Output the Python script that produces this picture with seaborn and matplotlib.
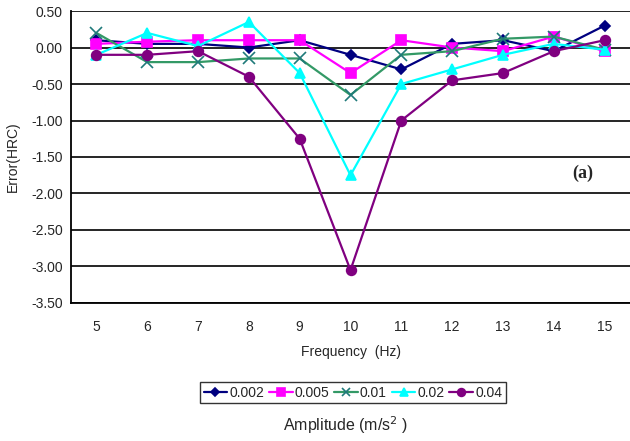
import numpy as np
import pandas as pd
import matplotlib
matplotlib.use("Agg")
import matplotlib.pyplot as plt
import seaborn as sns

# frequency (Hz) on x, one series per amplitude
freq = [5, 6, 7, 8, 9, 10, 11, 12, 13, 14, 15]
amp_labels = ["0.002", "0.005", "0.01", "0.02", "0.04"]

err_0002 = [0.10, 0.05, 0.05, 0.00, 0.10, -0.10, -0.30, 0.05, 0.10, -0.05, 0.30]
err_0005 = [0.05, 0.08, 0.10, 0.10, 0.10, -0.35, 0.10, 0.00, -0.05, 0.15, -0.05]
err_001 = [0.20, -0.20, -0.20, -0.15, -0.15, -0.65, -0.10, -0.05, 0.12, 0.15, -0.03]
err_002 = [-0.10, 0.20, 0.02, 0.35, -0.35, -1.75, -0.50, -0.30, -0.10, 0.05, -0.03]
err_004 = [-0.10, -0.10, -0.05, -0.40, -1.25, -3.05, -1.00, -0.45, -0.35, -0.05, 0.10]

series = [err_0002, err_0005, err_001, err_002, err_004]
line_colors = ["#000080", "#FF00FF", "#339966", "#00FFFF", "#800080"]
marker_colors = ["#000080", "#FF00FF", "#1F7A7A", "#00FFFF", "#800080"]
markers = ["D", "s", "x", "^", "o"]
msizes = [5.5, 6.5, 8, 7, 7]

df = pd.DataFrame({
    "freq": np.tile(freq, len(series)),
    "err": np.concatenate(series),
    "amp": np.repeat(amp_labels, len(freq)),
})

sns.set_style("white")
plt.rcParams["font.family"] = ["Liberation Sans", "DejaVu Sans"]

fig = plt.figure(figsize=(6.3, 4.41), dpi=100)
ax = fig.add_axes([0.1127, 0.313, 0.8873, 0.662])

for lab, lc, mc, mk, ms in zip(amp_labels, line_colors, marker_colors, markers, msizes):
    sub = df[df["amp"] == lab]
    sns.lineplot(data=sub, x="freq", y="err", ax=ax, color=lc, marker=mk,
                 markersize=ms, markerfacecolor=mc, markeredgecolor=mc,
                 markeredgewidth=1.2, linewidth=1.6, label=lab, zorder=3)

ax.set_xlim(4.5, 15.5)
ax.set_ylim(-3.5, 0.5)
yt = np.arange(-3.5, 0.51, 0.5)
ax.set_yticks(yt)
ax.set_yticklabels([f"{v:.2f}" for v in yt], fontsize=10)
ax.set_xticks(freq)
ax.set_xticklabels([str(f) for f in freq], fontsize=10)
ax.set_xticks(np.arange(4.5, 15.6, 1.0), minor=True)
ax.tick_params(axis="x", which="major", length=0, pad=12)
ax.tick_params(axis="x", which="minor", length=4, width=1, color="black", direction="out")
ax.tick_params(axis="y", length=4, width=1, color="black", direction="out", pad=2)

ax.yaxis.grid(True, color="black", linewidth=1.2)
ax.xaxis.grid(False)
ax.set_axisbelow(True)
for s in ["top", "right"]:
    ax.spines[s].set_visible(False)
for s in ["left", "bottom"]:
    ax.spines[s].set_color("black")
    ax.spines[s].set_linewidth(1.3)

ax.set_xlabel("Frequency  (Hz)", fontsize=10, labelpad=8)
ax.set_ylabel("Error(HRC)", fontsize=10, labelpad=8)

ax.text(14.58, -1.72, "(a)", fontsize=13, fontweight="bold",
        family=["Liberation Serif", "DejaVu Serif"], ha="center", va="center")

handles, labels = ax.get_legend_handles_labels()
ax.get_legend().remove()
leg = fig.legend(handles, labels, loc="center", bbox_to_anchor=(0.56, 0.109),
                 ncol=5, fontsize=10, frameon=True, fancybox=False,
                 edgecolor="black", handlelength=1.7, handletextpad=0.15,
                 columnspacing=0.35, borderpad=0.25, borderaxespad=0,
                 markerscale=0.8)
leg.get_frame().set_linewidth(1.0)

fig.text(0.548, 0.036, "Amplitude (m/s$^2$ )", fontsize=11.5, ha="center", va="center")

fig.savefig("out.png", dpi=100)
